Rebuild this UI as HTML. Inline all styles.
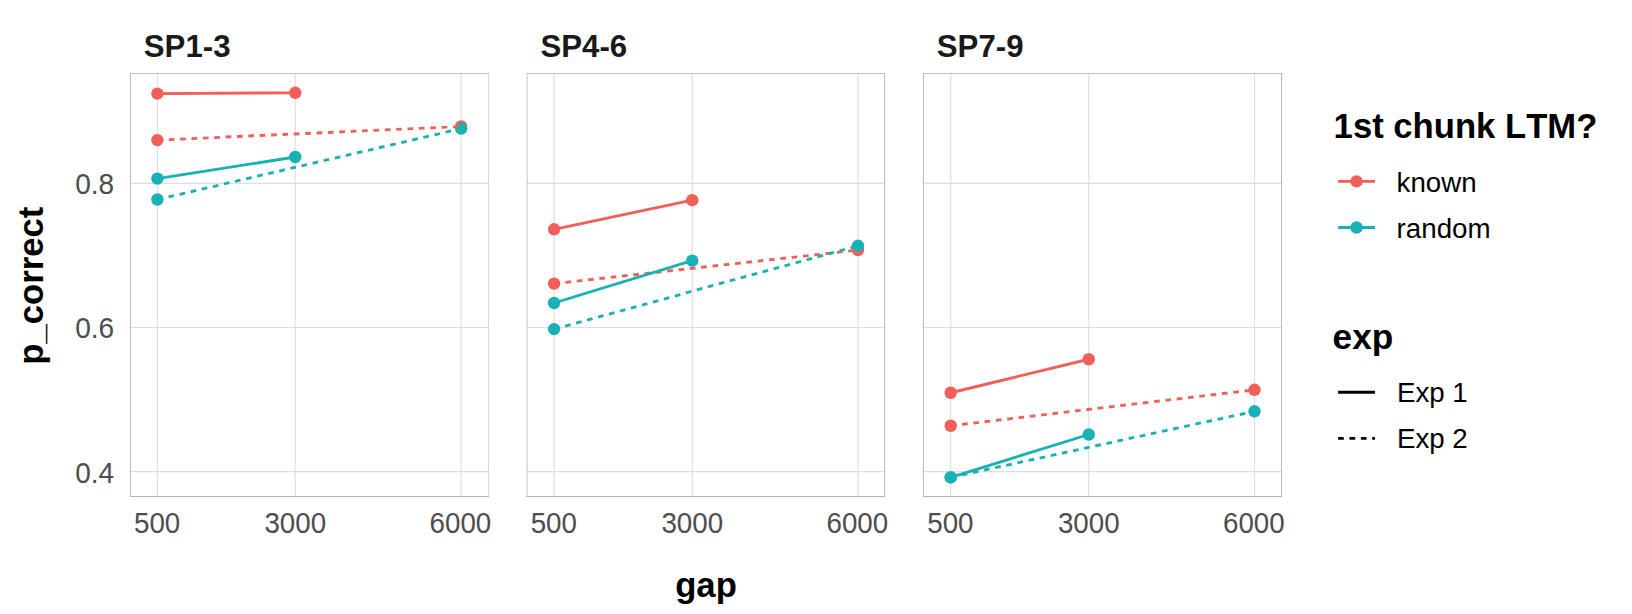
<!DOCTYPE html>
<html lang="en"><head><meta charset="utf-8"><title>p_correct by gap</title>
<style>
html,body{margin:0;padding:0;background:#fff;}
body{width:1632px;height:614px;overflow:hidden;}
svg{display:block;}
text{font-family:"Liberation Sans",Arial,Helvetica,sans-serif;font-kerning:none;}
.strip{font-size:31.2px;font-weight:700;fill:#1A1A1A;}
.ax{font-size:27.73px;fill:#4D4D4D;}
.title{font-size:34.67px;font-weight:700;fill:#000;}
.leg{font-size:27.73px;fill:#000;}
</style></head><body>
<svg width="1632" height="614" viewBox="0 0 1632 614">
<rect width="1632" height="614" fill="#fff"/>
<g class="panel">
<line x1="130.5" x2="488.3" y1="183.4" y2="183.4" stroke="#DEDEDE" stroke-width="1.14"/>
<line x1="130.5" x2="488.3" y1="327.5" y2="327.5" stroke="#DEDEDE" stroke-width="1.14"/>
<line x1="130.5" x2="488.3" y1="471.6" y2="471.6" stroke="#DEDEDE" stroke-width="1.14"/>
<line x1="157.4" x2="157.4" y1="73.5" y2="496.4" stroke="#DEDEDE" stroke-width="1.14"/>
<line x1="295.25" x2="295.25" y1="73.5" y2="496.4" stroke="#DEDEDE" stroke-width="1.14"/>
<line x1="461.1" x2="461.1" y1="73.5" y2="496.4" stroke="#DEDEDE" stroke-width="1.14"/>
<circle cx="157.4" cy="93.6" r="6.2" fill="#F25E58"/>
<circle cx="295.25" cy="92.8" r="6.2" fill="#F25E58"/>
<circle cx="157.4" cy="140.1" r="6.2" fill="#F25E58"/>
<circle cx="461.1" cy="126.5" r="6.2" fill="#F25E58"/>
<circle cx="157.4" cy="178.6" r="6.2" fill="#18B2B6"/>
<circle cx="295.25" cy="157.0" r="6.2" fill="#18B2B6"/>
<circle cx="157.4" cy="199.5" r="6.2" fill="#18B2B6"/>
<circle cx="461.1" cy="128.6" r="6.2" fill="#18B2B6"/>
<line x1="157.4" y1="93.6" x2="295.25" y2="92.8" stroke="#F25E58" stroke-width="2.85"/>
<line x1="157.4" y1="140.1" x2="461.1" y2="126.5" stroke="#F25E58" stroke-width="2.85" stroke-dasharray="5.69 5.69"/>
<line x1="157.4" y1="178.6" x2="295.25" y2="157.0" stroke="#18B2B6" stroke-width="2.85"/>
<line x1="157.4" y1="199.5" x2="461.1" y2="128.6" stroke="#18B2B6" stroke-width="2.85" stroke-dasharray="5.69 5.69"/>
<g stroke="#B3B3B3" stroke-width="1" fill="none">
<line x1="130.5" x2="130.5" y1="73" y2="497" stroke-opacity="0.85"/>
<line x1="488.5" x2="488.5" y1="73" y2="497" stroke-opacity="0.5"/>
<line x1="130.0" x2="489.0" y1="73.5" y2="73.5" stroke-opacity="0.8"/>
<line x1="130.0" x2="489.0" y1="496.5" y2="496.5"/>
</g>
<text class="strip" x="143.80" y="56.9">SP1-3</text>
<text class="ax" text-anchor="middle" transform="translate(157.10 533.3) scale(1 1.06)">500</text>
<text class="ax" text-anchor="middle" transform="translate(295.25 533.3) scale(1 1.06)">3000</text>
<text class="ax" text-anchor="middle" transform="translate(460.40 533.3) scale(1 1.06)">6000</text>
</g>
<g class="panel">
<line x1="527.2" x2="884.7" y1="183.4" y2="183.4" stroke="#DEDEDE" stroke-width="1.14"/>
<line x1="527.2" x2="884.7" y1="327.5" y2="327.5" stroke="#DEDEDE" stroke-width="1.14"/>
<line x1="527.2" x2="884.7" y1="471.6" y2="471.6" stroke="#DEDEDE" stroke-width="1.14"/>
<line x1="554.1" x2="554.1" y1="73.5" y2="496.4" stroke="#DEDEDE" stroke-width="1.14"/>
<line x1="692.25" x2="692.25" y1="73.5" y2="496.4" stroke="#DEDEDE" stroke-width="1.14"/>
<line x1="858.0" x2="858.0" y1="73.5" y2="496.4" stroke="#DEDEDE" stroke-width="1.14"/>
<circle cx="554.1" cy="229.3" r="6.2" fill="#F25E58"/>
<circle cx="692.25" cy="200.2" r="6.2" fill="#F25E58"/>
<circle cx="554.1" cy="283.6" r="6.2" fill="#F25E58"/>
<circle cx="858.0" cy="250.1" r="6.2" fill="#F25E58"/>
<circle cx="554.1" cy="303.0" r="6.2" fill="#18B2B6"/>
<circle cx="692.25" cy="260.7" r="6.2" fill="#18B2B6"/>
<circle cx="554.1" cy="329.1" r="6.2" fill="#18B2B6"/>
<circle cx="858.0" cy="245.8" r="6.2" fill="#18B2B6"/>
<line x1="554.1" y1="229.3" x2="692.25" y2="200.2" stroke="#F25E58" stroke-width="2.85"/>
<line x1="554.1" y1="283.6" x2="858.0" y2="250.1" stroke="#F25E58" stroke-width="2.85" stroke-dasharray="5.69 5.69"/>
<line x1="554.1" y1="303.0" x2="692.25" y2="260.7" stroke="#18B2B6" stroke-width="2.85"/>
<line x1="554.1" y1="329.1" x2="858.0" y2="245.8" stroke="#18B2B6" stroke-width="2.85" stroke-dasharray="5.69 5.69"/>
<g stroke="#B3B3B3" stroke-width="1" fill="none">
<line x1="527.1" x2="527.1" y1="73" y2="497" stroke-opacity="0.75"/>
<line x1="884.5" x2="884.5" y1="73" y2="497" stroke-opacity="0.85"/>
<line x1="526.6" x2="885.0" y1="73.5" y2="73.5" stroke-opacity="0.8"/>
<line x1="526.6" x2="885.0" y1="496.5" y2="496.5"/>
</g>
<text class="strip" x="540.50" y="56.9">SP4-6</text>
<text class="ax" text-anchor="middle" transform="translate(553.80 533.3) scale(1 1.06)">500</text>
<text class="ax" text-anchor="middle" transform="translate(692.25 533.3) scale(1 1.06)">3000</text>
<text class="ax" text-anchor="middle" transform="translate(857.30 533.3) scale(1 1.06)">6000</text>
</g>
<g class="panel">
<line x1="923.5" x2="1281.5" y1="183.4" y2="183.4" stroke="#DEDEDE" stroke-width="1.14"/>
<line x1="923.5" x2="1281.5" y1="327.5" y2="327.5" stroke="#DEDEDE" stroke-width="1.14"/>
<line x1="923.5" x2="1281.5" y1="471.6" y2="471.6" stroke="#DEDEDE" stroke-width="1.14"/>
<line x1="950.7" x2="950.7" y1="73.5" y2="496.4" stroke="#DEDEDE" stroke-width="1.14"/>
<line x1="1088.75" x2="1088.75" y1="73.5" y2="496.4" stroke="#DEDEDE" stroke-width="1.14"/>
<line x1="1254.5" x2="1254.5" y1="73.5" y2="496.4" stroke="#DEDEDE" stroke-width="1.14"/>
<circle cx="950.7" cy="392.75" r="6.2" fill="#F25E58"/>
<circle cx="1088.75" cy="359.25" r="6.2" fill="#F25E58"/>
<circle cx="950.7" cy="425.75" r="6.2" fill="#F25E58"/>
<circle cx="1254.5" cy="389.8" r="6.2" fill="#F25E58"/>
<circle cx="950.7" cy="477.4" r="6.2" fill="#18B2B6"/>
<circle cx="1088.75" cy="434.5" r="6.2" fill="#18B2B6"/>
<circle cx="950.7" cy="477.4" r="6.2" fill="#18B2B6"/>
<circle cx="1254.5" cy="411.3" r="6.2" fill="#18B2B6"/>
<line x1="950.7" y1="392.75" x2="1088.75" y2="359.25" stroke="#F25E58" stroke-width="2.85"/>
<line x1="950.7" y1="425.75" x2="1254.5" y2="389.8" stroke="#F25E58" stroke-width="2.85" stroke-dasharray="5.69 5.69"/>
<line x1="950.7" y1="477.4" x2="1088.75" y2="434.5" stroke="#18B2B6" stroke-width="2.85"/>
<line x1="950.7" y1="477.4" x2="1254.5" y2="411.3" stroke="#18B2B6" stroke-width="2.85" stroke-dasharray="5.69 5.69"/>
<g stroke="#B3B3B3" stroke-width="1" fill="none">
<line x1="923.5" x2="923.5" y1="73" y2="497" stroke-opacity="0.9"/>
<line x1="1281.5" x2="1281.5" y1="73" y2="497" stroke-opacity="0.9"/>
<line x1="923.0" x2="1282.0" y1="73.5" y2="73.5" stroke-opacity="0.8"/>
<line x1="923.0" x2="1282.0" y1="496.5" y2="496.5"/>
</g>
<text class="strip" x="936.80" y="56.9">SP7-9</text>
<text class="ax" text-anchor="middle" transform="translate(950.40 533.3) scale(1 1.06)">500</text>
<text class="ax" text-anchor="middle" transform="translate(1088.75 533.3) scale(1 1.06)">3000</text>
<text class="ax" text-anchor="middle" transform="translate(1253.80 533.3) scale(1 1.06)">6000</text>
</g>
<text class="ax" text-anchor="end" transform="translate(114.2 194.30) scale(1.012 1.065)">0.8</text>
<text class="ax" text-anchor="end" transform="translate(114.2 338.40) scale(1.012 1.065)">0.6</text>
<text class="ax" text-anchor="end" transform="translate(114.2 482.50) scale(1.012 1.065)">0.4</text>
<text class="title" text-anchor="middle" x="706" y="596.9">gap</text>
<text class="title" text-anchor="middle" transform="translate(42.6 285.7) rotate(-90)">p_correct</text>
<text class="title" transform="translate(1333.6 138.0) scale(1 1.015)">1st chunk LTM?</text>
<line x1="1338.1" x2="1375" y1="181.4" y2="181.4" stroke="#F25E58" stroke-width="2.85"/>
<circle cx="1356.5" cy="181.4" r="6.2" fill="#F25E58"/>
<text class="leg" x="1396.6" y="191.70">known</text>
<line x1="1338.1" x2="1375" y1="227.5" y2="227.5" stroke="#18B2B6" stroke-width="2.85"/>
<circle cx="1356.5" cy="227.5" r="6.2" fill="#18B2B6"/>
<text class="leg" x="1396.6" y="237.80">random</text>
<text class="title" transform="translate(1332.6 348.9) scale(1.017 1)">exp</text>
<line x1="1338.1" x2="1375" y1="392.2" y2="392.2" stroke="#000" stroke-width="2.85"/>
<text class="leg" x="1396.9" y="402.00">Exp 1</text>
<line x1="1338.1" x2="1375" y1="438.4" y2="438.4" stroke="#000" stroke-width="2.85" stroke-dasharray="5.69 5.69"/>
<text class="leg" x="1396.9" y="448.20">Exp 2</text>
</svg>
</body></html>
